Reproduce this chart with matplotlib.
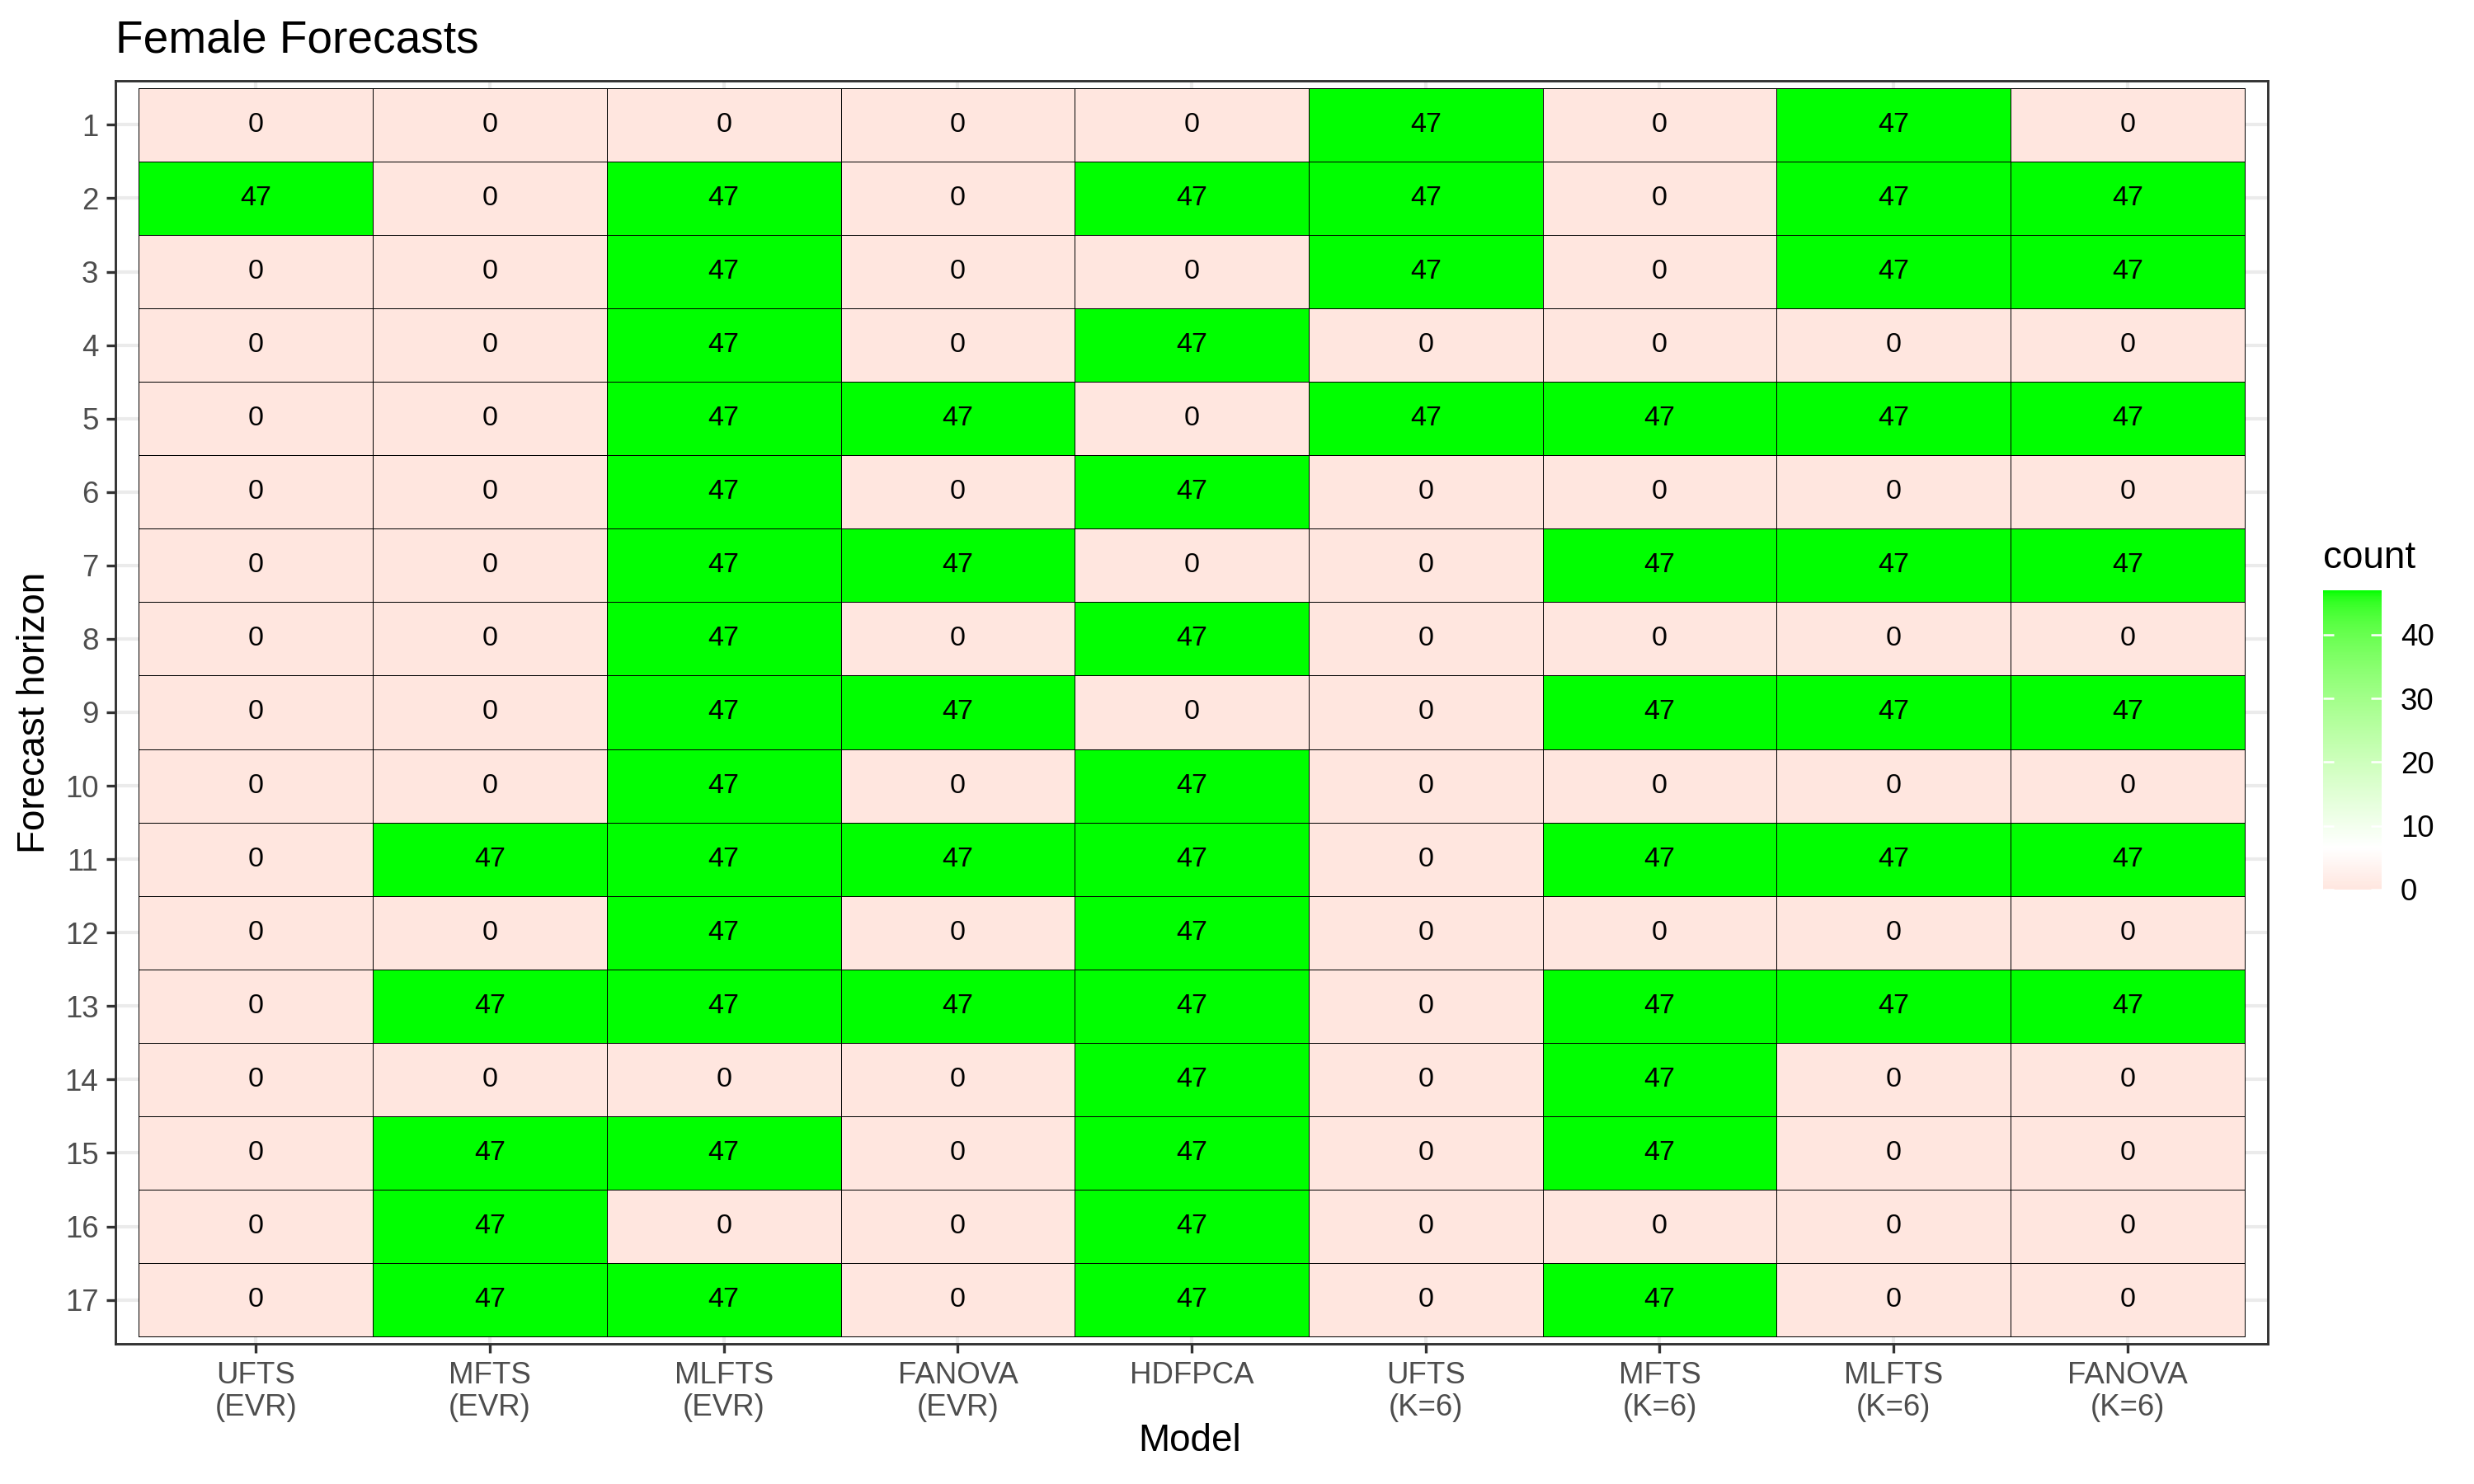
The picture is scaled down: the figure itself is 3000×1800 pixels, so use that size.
import numpy as np
import matplotlib
matplotlib.use("Agg")
import matplotlib.pyplot as plt
from matplotlib.colors import ListedColormap, to_rgb

plt.rcParams['font.family'] = ['Liberation Sans', 'DejaVu Sans']

# data
models = ["UFTS\n(EVR)", "MFTS\n(EVR)", "MLFTS\n(EVR)", "FANOVA\n(EVR)", "HDFPCA",
          "UFTS\n(K=6)", "MFTS\n(K=6)", "MLFTS\n(K=6)", "FANOVA\n(K=6)"]
horizons = list(range(1, 18))
counts = [
    [0, 0, 0, 0, 0, 47, 0, 47, 0],
    [47, 0, 47, 0, 47, 47, 0, 47, 47],
    [0, 0, 47, 0, 0, 47, 0, 47, 47],
    [0, 0, 47, 0, 47, 0, 0, 0, 0],
    [0, 0, 47, 47, 0, 47, 47, 47, 47],
    [0, 0, 47, 0, 47, 0, 0, 0, 0],
    [0, 0, 47, 47, 0, 0, 47, 47, 47],
    [0, 0, 47, 0, 47, 0, 0, 0, 0],
    [0, 0, 47, 47, 0, 0, 47, 47, 47],
    [0, 0, 47, 0, 47, 0, 0, 0, 0],
    [0, 47, 47, 47, 47, 0, 47, 47, 47],
    [0, 0, 47, 0, 47, 0, 0, 0, 0],
    [0, 47, 47, 47, 47, 0, 47, 47, 47],
    [0, 0, 0, 0, 47, 0, 47, 0, 0],
    [0, 47, 47, 0, 47, 0, 47, 0, 0],
    [0, 47, 0, 0, 47, 0, 0, 0, 0],
    [0, 47, 47, 0, 47, 0, 47, 0, 0],
]
Z = np.array(counts)
vmax = Z.max()
mid = 6.5


# diverging palette interpolated in Lab, like ggplot's gradient2
def to_lab(rgb):
    c = np.array(rgb, dtype=float)
    lin = np.where(c <= 0.04045, c / 12.92, ((c + 0.055) / 1.055) ** 2.4)
    M = np.array([[0.4124, 0.3576, 0.1805], [0.2126, 0.7152, 0.0722], [0.0193, 0.1192, 0.9505]])
    xyz = M @ lin / np.array([0.95047, 1.0, 1.08883])
    d = 6 / 29
    f = np.where(xyz > d ** 3, np.cbrt(xyz), xyz / (3 * d * d) + 4 / 29)
    return np.array([116 * f[1] - 16, 500 * (f[0] - f[1]), 200 * (f[1] - f[2])])


def from_lab(lab):
    L, a, b = lab
    fy = (L + 16) / 116
    fx = fy + a / 500
    fz = fy - b / 200
    d = 6 / 29
    t = np.array([fx, fy, fz])
    xyz = np.where(t > d, t ** 3, 3 * d * d * (t - 4 / 29)) * np.array([0.95047, 1.0, 1.08883])
    Mi = np.array([[3.2406, -1.5372, -0.4986], [-0.9689, 1.8758, 0.0415], [0.0557, -0.2040, 1.0570]])
    lin = Mi @ xyz
    c = np.where(lin <= 0.0031308, 12.92 * lin, 1.055 * np.clip(lin, 0, None) ** (1 / 2.4) - 0.055)
    return np.clip(c, 0, 1)


low, white, high = to_lab(to_rgb("#FFE6DF")), to_lab((1, 1, 1)), to_lab((0, 1, 0))
cols = []
for v in np.linspace(0, vmax, 256):
    if v < mid:
        t = v / mid
        cols.append(from_lab(low + (white - low) * t))
    else:
        t = (v - mid) / (vmax - mid)
        cols.append(from_lab(white + (high - white) * t))
cmap = ListedColormap(cols)

fig = plt.figure(figsize=(10, 6), dpi=300)
ax = fig.add_axes([0.0467, 0.0944, 0.87, 0.8512])

nx, ny = len(models), len(horizons)
xe = np.arange(nx + 1) + 0.5
ye = np.arange(ny + 1) + 0.5
mesh = ax.pcolormesh(xe, ye, Z, cmap=cmap, vmin=0, vmax=vmax,
                     edgecolors="black", linewidth=0.2, zorder=2)

for i in range(ny):
    for j in range(nx):
        ax.text(j + 1, i + 1, str(Z[i, j]), ha="center", va="center",
                fontsize=8.2, color="black", zorder=3)

ax.set_xlim(0.4, nx + 0.6)
ax.set_ylim(ny + 0.6, 0.4)
ax.set_xticks(range(1, nx + 1))
ax.set_xticklabels(models, linespacing=1.15)
ax.set_yticks(horizons)
ax.set_yticklabels([str(h) for h in horizons])
ax.grid(color="#EBEBEB", linewidth=1.0, zorder=0)
ax.set_axisbelow(True)
ax.tick_params(length=2.75, width=0.8, color="#333333", labelcolor="#4D4D4D",
               labelsize=8.8, pad=2.2)
for s in ax.spines.values():
    s.set_color("#333333")
    s.set_linewidth(0.7)

fig.text(0.0467, 0.965, "Female Forecasts", fontsize=13.2, ha="left", va="baseline")
fig.text(0.481, 0.022, "Model", fontsize=11, ha="center", va="baseline")
fig.text(0.014, 0.52, "Forecast horizon", fontsize=11, ha="center", va="center",
         rotation=90)

# colour bar legend
cax = fig.add_axes([0.939, 0.4006, 0.0237, 0.2017])
cb = fig.colorbar(mesh, cax=cax)
cb.outline.set_visible(False)
cb.set_ticks([0, 10, 20, 30, 40])
cax.tick_params(direction="in", left=True, right=True, length=3.1, width=0.6,
                color="white", labelcolor="black", labelsize=8.8, pad=5.5)
fig.text(0.939, 0.617, "count", fontsize=11, ha="left", va="baseline")

fig.savefig("out.png", dpi=300)
